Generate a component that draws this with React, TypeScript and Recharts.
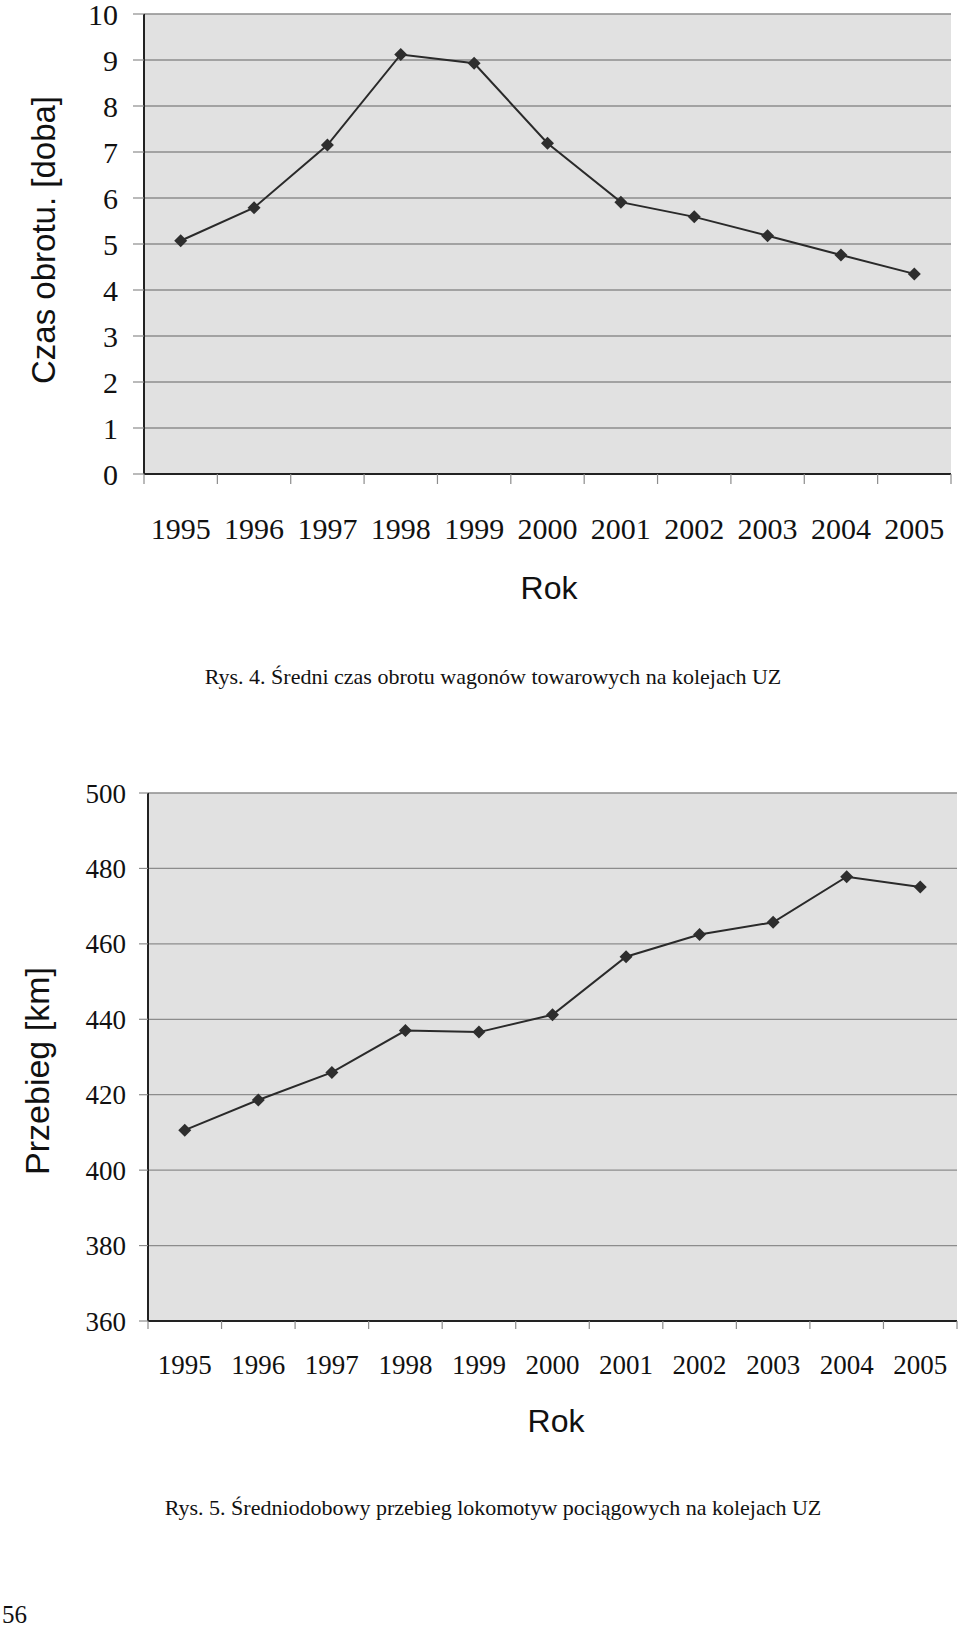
import { LineChart, Line, XAxis, YAxis, CartesianGrid } from 'recharts'

const SERIF = "'Liberation Serif', 'Times New Roman', serif"
const SANS = "'Liberation Sans', Arial, sans-serif"

// data
const years = ['1995', '1996', '1997', '1998', '1999', '2000', '2001', '2002', '2003', '2004', '2005']
const czasObrotu = [5.07, 5.79, 7.15, 9.12, 8.93, 7.19, 5.91, 5.59, 5.18, 4.76, 4.35]
const przebieg = [410.6, 418.6, 425.9, 437.0, 436.6, 441.2, 456.6, 462.5, 465.7, 477.8, 475.1]
const czasTicks = [0, 1, 2, 3, 4, 5, 6, 7, 8, 9, 10]
const przebiegTicks = [360, 380, 400, 420, 440, 460, 480, 500]

const FRAME = '#222'
const GRID = '#8c8c8c'
const INK = '#111'

type Cfg = {
  width: number; height: number
  top: number; left: number; right: number; plotBottom: number
  yFont: number; yTickSize: number; yTickGap: number
  xFont: number; xTickLen: number; xLabelBase: number
  titleFont: number; yTitleX: number; yTitleY: number; rokX: number; rokBase: number
  dot: number
}

type DotProps = { cx?: number; cy?: number; index?: number }

function PanelChart({ values, ticks, yTitle, cfg }: { values: number[]; ticks: number[]; yTitle: string; cfg: Cfg }) {
  const rows = years.map((year, i) => ({ year, value: values[i] }))
  const plotW = cfg.width - cfg.left - cfg.right
  const half = plotW / years.length / 2

  // Excel-style category ticks: marks on the band edges, label in the middle
  const yearTick = (p: any) => {
    const { x, y, payload, index } = p
    return (
      <g>
        <line x1={x - half} x2={x - half} y1={y} y2={y + cfg.xTickLen} stroke={GRID} strokeWidth={1.2} />
        {index === years.length - 1 && (
          <line x1={x + half} x2={x + half} y1={y} y2={y + cfg.xTickLen} stroke={GRID} strokeWidth={1.2} />
        )}
        <text x={x} y={y + cfg.xLabelBase} textAnchor="middle" fill={INK}
          style={{ fontFamily: SERIF, fontSize: cfg.xFont }}>
          {payload.value}
        </text>
      </g>
    )
  }

  const valueTick = (p: any) => {
    const { x, y, payload } = p
    return (
      <text x={x} y={y} dy="0.355em" textAnchor="end" fill={INK} style={{ fontFamily: SERIF, fontSize: cfg.yFont }}>
        {payload.value}
      </text>
    )
  }

  const diamond = (p: DotProps) => {
    const { cx, cy, index } = p
    if (cx == null || cy == null) return <g key={`d-${index}`} />
    const s = cfg.dot
    return <path key={`d-${index}`} d={`M${cx},${cy - s}L${cx + s},${cy}L${cx},${cy + s}L${cx - s},${cy}Z`} fill="#2e2e2e" />
  }

  const rokLabel = () => (
    <text x={cfg.rokX} y={cfg.rokBase} textAnchor="middle" fill={INK} style={{ fontFamily: SANS, fontSize: 32 }}>Rok</text>
  )
  const titleLabel = () => (
    <text x={cfg.yTitleX} y={cfg.yTitleY} transform={`rotate(-90 ${cfg.yTitleX} ${cfg.yTitleY})`}
      textAnchor="middle" fill={INK} style={{ fontFamily: SANS, fontSize: cfg.titleFont }}>{yTitle}</text>
  )

  return (
    <LineChart width={cfg.width} height={cfg.height} data={rows}
      margin={{ top: cfg.top, right: cfg.right, bottom: 0, left: 0 }}>
      <CartesianGrid vertical={false} stroke={GRID} strokeWidth={1.3} fill="#e1e1e1" fillOpacity={1} />
      <XAxis dataKey="year" interval={0} height={cfg.height - cfg.plotBottom}
        padding={{ left: half, right: half }} tickSize={0} tickMargin={0} tickLine={false}
        axisLine={{ stroke: FRAME, strokeWidth: 2 }} tick={yearTick} label={rokLabel} />
      <YAxis type="number" domain={[ticks[0], ticks[ticks.length - 1]]} ticks={ticks} interval={0}
        width={cfg.left} tickSize={cfg.yTickSize} tickMargin={cfg.yTickGap}
        tickLine={{ stroke: GRID, strokeWidth: 1.2 }} axisLine={{ stroke: FRAME, strokeWidth: 2 }}
        tick={valueTick} label={titleLabel} />
      {/* top and right edges of the plot frame */}
      <XAxis xAxisId="frameTop" orientation="top" type="number" domain={[0, 1]} height={0}
        tick={false} tickLine={false} axisLine={{ stroke: FRAME, strokeWidth: 2 }} />
      <YAxis yAxisId="frameRight" orientation="right" type="number" domain={[0, 1]} width={0}
        tick={false} tickLine={false} axisLine={{ stroke: FRAME, strokeWidth: 2 }} />
      <Line dataKey="value" stroke="#2a2a2a" strokeWidth={2} dot={diamond} activeDot={false} isAnimationActive={false} />
    </LineChart>
  )
}

const cfg1: Cfg = {
  width: 960, height: 620, top: 14, left: 144, right: 9, plotBottom: 474,
  yFont: 30, yTickSize: 11, yTickGap: 15,
  xFont: 30, xTickLen: 10, xLabelBase: 65,
  titleFont: 33, yTitleX: 55, yTitleY: 240, rokX: 549, rokBase: 599, dot: 6.5,
}

const cfg2: Cfg = {
  width: 960, height: 691, top: 33, left: 148, right: 3, plotBottom: 561,
  yFont: 27, yTickSize: 9, yTickGap: 13,
  xFont: 27, xTickLen: 8, xLabelBase: 53,
  titleFont: 34, yTitleX: 49, yTitleY: 311, rokX: 556, rokBase: 672, dot: 6.5,
}

const caption = (top: number, left: number): React.CSSProperties => ({
  position: 'absolute', top, left, transform: 'translateX(-50%)', whiteSpace: 'nowrap',
  fontFamily: SERIF, fontSize: 22, lineHeight: '22px', color: INK,
})

export default function App() {
  return (
    <div style={{ position: 'absolute', left: 0, top: 0, width: 960, height: 1634, background: '#fff', overflow: 'hidden' }}>
      <div style={{ position: 'absolute', left: 0, top: 0 }}>
        <PanelChart values={czasObrotu} ticks={czasTicks} yTitle="Czas obrotu. [doba]" cfg={cfg1} />
      </div>
      <div style={caption(666, 493)}>Rys. 4. Średni czas obrotu wagonów towarowych na kolejach UZ</div>

      <div style={{ position: 'absolute', left: 0, top: 760 }}>
        <PanelChart values={przebieg} ticks={przebiegTicks} yTitle="Przebieg [km]" cfg={cfg2} />
      </div>
      <div style={caption(1497, 493)}>Rys. 5. Średniodobowy przebieg lokomotyw pociągowych na kolejach UZ</div>

      <div style={{ position: 'absolute', left: 2, top: 1602, fontFamily: SERIF, fontSize: 25, lineHeight: '25px', color: INK }}>56</div>
    </div>
  )
}
